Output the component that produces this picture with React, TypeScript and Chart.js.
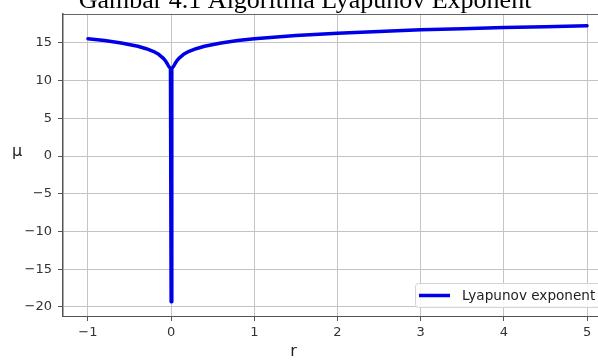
import React, { useEffect, useRef } from 'react';
import { Chart, registerables } from 'chart.js';
Chart.register(...registerables);

// Data
const rValues = [-1, -0.8, -0.6, -0.4, -0.3, -0.2, -0.15, -0.1, -0.07, -0.05, -0.03, -0.008, 0, 0.008, 0.03, 0.05, 0.07, 0.1, 0.15, 0.2, 0.3, 0.4, 0.6, 0.8, 1, 1.5, 2, 2.5, 3, 3.5, 4, 4.5, 5];
const muValues = [15.55, 15.3, 14.98, 14.55, 14.22, 13.8, 13.48, 13.02, 12.65, 12.3, 11.9, 11.6, -19.3, 11.6, 11.9, 12.3, 12.65, 13.02, 13.48, 13.8, 14.22, 14.55, 14.98, 15.3, 15.55, 15.98, 16.28, 16.52, 16.72, 16.88, 17.02, 17.14, 17.25];
const xTickValues = [-1, 0, 1, 2, 3, 4, 5];
const yTickValues = [-20, -15, -10, -5, 0, 5, 10, 15];
const seriesLabel = 'Lyapunov exponent';
const titleText = 'Gambar 4.1 Algoritma Lyapunov Exponent';
const xLabel = 'r';
const yLabel = 'μ';

const fmt = (v: number) => (v < 0 ? '\u2212' + Math.abs(v) : String(v));

const overlay = {
  id: 'overlay',
  afterDraw(chart: any) {
    const { ctx, chartArea: a } = chart;
    ctx.save();
    // top frame line
    ctx.strokeStyle = '#666';
    ctx.lineWidth = 1;
    ctx.beginPath();
    ctx.moveTo(a.left, Math.round(a.top) + 0.5);
    ctx.lineTo(a.right, Math.round(a.top) + 0.5);
    ctx.stroke();

    // legend (lower right)
    const ds = chart.data.datasets[0];
    const bx = a.right - 197, by = a.bottom - 33, bw = 190, bh = 24;
    ctx.fillStyle = 'rgba(255,255,255,0.85)';
    ctx.strokeStyle = '#d4d4d4';
    ctx.lineWidth = 1;
    ctx.beginPath();
    (ctx as any).roundRect(bx + 0.5, by + 0.5, bw, bh, 3);
    ctx.fill();
    ctx.stroke();
    ctx.strokeStyle = ds.borderColor;
    ctx.lineWidth = 3.5;
    ctx.beginPath();
    ctx.moveTo(bx + 4, by + bh / 2 + 0.5);
    ctx.lineTo(bx + 35, by + bh / 2 + 0.5);
    ctx.stroke();
    ctx.fillStyle = '#222';
    ctx.font = '13.6px "DejaVu Sans"';
    ctx.textAlign = 'left';
    ctx.textBaseline = 'middle';
    ctx.fillText(ds.label, bx + 47, by + bh / 2 + 1);

    // axis labels
    ctx.font = '16px "DejaVu Sans"';
    ctx.textAlign = 'center';
    ctx.fillText(yLabel, 17, 152);
    ctx.fillText(xLabel, (a.left + a.right) / 2 - 44, 352);

    // caption title
    ctx.fillStyle = '#000';
    ctx.font = '26px "Liberation Serif"';
    ctx.textBaseline = 'alphabetic';
    ctx.fillText(titleText, 305, 7.5);
    ctx.restore();
  },
};

export default function App() {
  const ref = useRef<HTMLCanvasElement>(null);
  useEffect(() => {
    const canvas = ref.current!;
    const chart = new Chart(canvas, {
      type: 'scatter',
      data: {
        datasets: [
          {
            label: seriesLabel,
            data: rValues.map((r, i) => ({ x: r, y: muValues[i] })),
            showLine: true,
            borderColor: '#0000e8',
            backgroundColor: '#0000e8',
            borderWidth: 3.5,
            pointRadius: 0,
            tension: 0,
            borderJoinStyle: 'round',
            borderCapStyle: 'round',
          } as any,
        ],
      },
      options: {
        responsive: false,
        animation: false,
        events: [],
        layout: { padding: { top: 10, right: 28, left: 0, bottom: 0 } },
        plugins: { legend: { display: false }, tooltip: { enabled: false }, title: { display: false } },
        scales: {
          x: {
            type: 'linear',
            min: -1.3,
            max: 5.3,
            afterBuildTicks: (s: any) => {
              s.ticks = xTickValues.map((v) => ({ value: v }));
            },
            afterFit: (s: any) => {
              s.height = 44;
            },
            ticks: {
              callback: (v: any) => fmt(Number(v)),
              color: '#333',
              font: { family: 'DejaVu Sans', size: 13 },
              padding: 4,
              maxRotation: 0,
            },
            grid: { color: '#c4c4c4', tickColor: '#555', tickLength: 5, lineWidth: 1 },
            border: { display: true, color: '#555', width: 1 },
          },
          y: {
            type: 'linear',
            min: -21.2,
            max: 18.85,
            afterBuildTicks: (s: any) => {
              s.ticks = yTickValues.map((v) => ({ value: v }));
            },
            afterFit: (s: any) => {
              s.width = 63;
            },
            ticks: {
              callback: (v: any) => fmt(Number(v)),
              color: '#333',
              font: { family: 'DejaVu Sans', size: 13 },
              padding: 6,
            },
            grid: { color: '#c4c4c4', tickColor: '#555', tickLength: 5, lineWidth: 1 },
            border: { display: true, color: '#555', width: 1.5 },
          },
        },
      },
      plugins: [overlay],
    });
    return () => chart.destroy();
  }, []);
  return (
    <div style={{ position: 'fixed', left: 0, top: 0, width: 598, height: 360, overflow: 'hidden', background: '#fff' }}>
      <canvas ref={ref} width={640} height={360} style={{ display: 'block' }} />
    </div>
  );
}
